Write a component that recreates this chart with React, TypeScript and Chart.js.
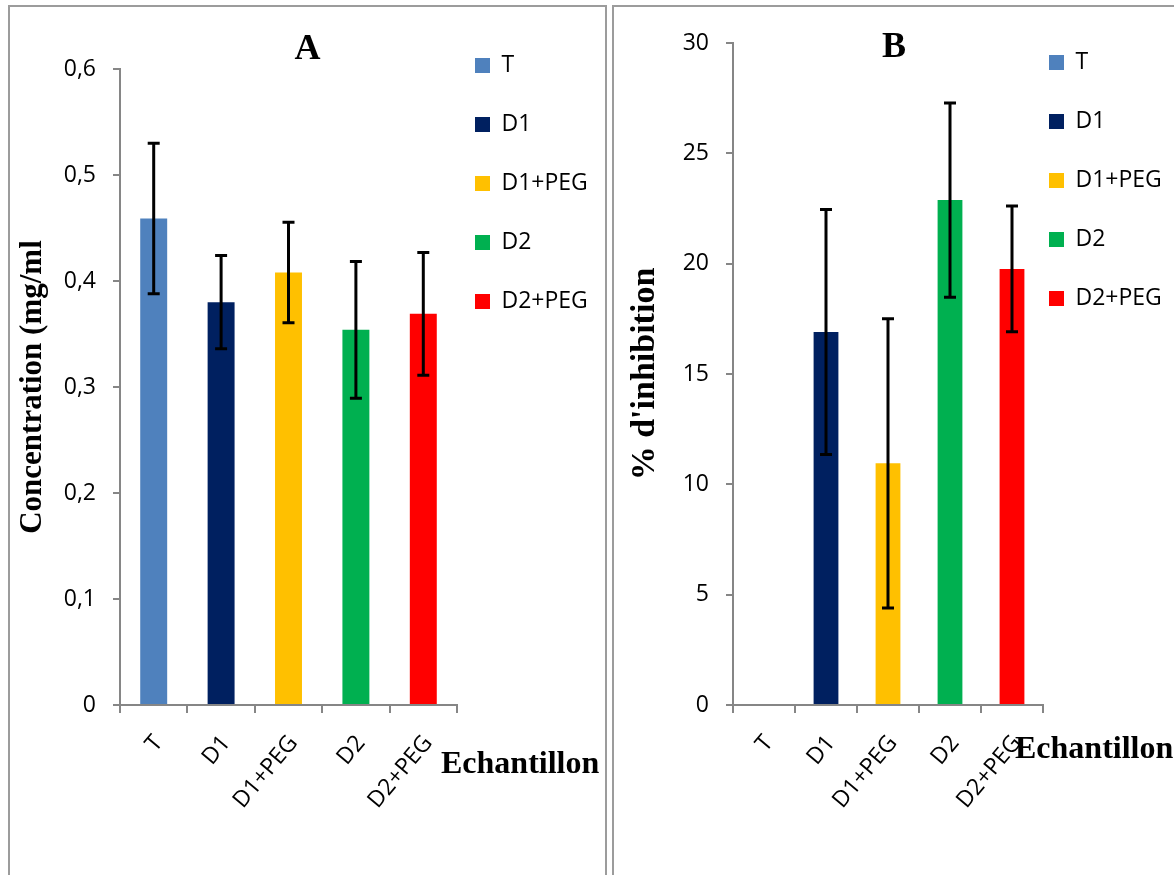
import { useEffect, useRef } from 'react';
import { Chart, registerables } from 'chart.js';

Chart.register(...registerables);

const categories = ['T', 'D1', 'D1+PEG', 'D2', 'D2+PEG'];
const barColors = ['#4F81BD', '#002060', '#FFC000', '#00B050', '#FF0000'];

const valuesA = [0.459, 0.38, 0.408, 0.354, 0.369];
const errorsA = [0.071, 0.044, 0.0475, 0.0645, 0.058];
const yTicksA = ['0', '0,1', '0,2', '0,3', '0,4', '0,5', '0,6'];

const valuesB = [0, 16.9, 10.95, 22.88, 19.76];
const errorsB = [0, 5.55, 6.55, 4.4, 2.85];
const yTicksB = ['0', '5', '10', '15', '20', '25', '30'];

const AXIS_GRAY = '#868686';
const SERIF = '"Liberation Serif", "Times New Roman", serif';
const SANS = '"Open Sans", "Liberation Sans", sans-serif';

type Spec = {
  width: number;
  height: number;
  values: number[];
  errors: number[];
  yMax: number;
  yStep: number;
  yTicks: string[];
  yTitle: string;
  yTitleSize: number;
  yTitlePad: number;
  yWidth: number;
  title: string;
  titlePad: { top: number; bottom: number };
  layoutTop: number;
  legendMaxWidth: number;
  legendOffset: number;
  xLabel: string;
  xLabelDx: number;
  xLabelDy: number;
  xHeight: number;
};

function errorBarPlugin(errors: number[]) {
  return {
    id: 'errorBars',
    afterDatasetsDraw(chart: any) {
      const meta = chart.getDatasetMeta(0);
      const ys = chart.scales.y;
      const vals = chart.data.datasets[0].data as number[];
      const ctx = chart.ctx;
      ctx.save();
      ctx.strokeStyle = '#000';
      ctx.lineWidth = 3;
      meta.data.forEach((bar: any, i: number) => {
        const e = errors[i];
        if (!e) return;
        const x = bar.x;
        const yt = ys.getPixelForValue(vals[i] + e);
        const yb = ys.getPixelForValue(vals[i] - e);
        ctx.beginPath();
        ctx.moveTo(x, yt);
        ctx.lineTo(x, yb);
        ctx.moveTo(x - 6, yt);
        ctx.lineTo(x + 6, yt);
        ctx.moveTo(x - 6, yb);
        ctx.lineTo(x + 6, yb);
        ctx.stroke();
      });
      ctx.restore();
    },
  };
}

function legendShiftPlugin(offset: number, padding: number) {
  return {
    id: 'legendShift',
    afterLayout(chart: any) {
      const lg = chart.legend;
      if (!lg) return;
      lg.left = chart.chartArea.right + offset - padding;
      lg.width = 220;
      lg.right = lg.left + lg.width;
    },
  };
}

function axisTextPlugin(text: string, dx: number, dy: number) {
  return {
    id: 'axisText',
    afterDraw(chart: any) {
      const ctx = chart.ctx;
      const a = chart.chartArea;
      ctx.save();
      ctx.font = `bold 32px ${SERIF}`;
      ctx.fillStyle = '#000';
      ctx.textAlign = 'left';
      ctx.textBaseline = 'middle';
      ctx.fillText(text, a.right + dx, a.bottom + dy);
      ctx.restore();
    },
  };
}

function makeChart(canvas: HTMLCanvasElement, s: Spec) {
  const legendPadding = 36;
  return new Chart(canvas, {
    type: 'bar',
    data: {
      labels: categories,
      datasets: [
        {
          label: 'values',
          data: s.values,
          backgroundColor: barColors,
          borderWidth: 0,
          categoryPercentage: 1,
          barPercentage: 0.4,
        },
      ],
    },
    options: {
      animation: false,
      responsive: false,
      maintainAspectRatio: false,
      layout: { padding: { top: s.layoutTop, left: 0, right: 0, bottom: 0 } },
      plugins: {
        tooltip: { enabled: false },
        title: {
          display: true,
          text: s.title,
          color: '#000',
          font: { family: SERIF, size: 36, weight: 'bold', lineHeight: 1 },
          padding: s.titlePad,
        },
        legend: {
          display: true,
          position: 'right',
          align: 'start',
          maxWidth: s.legendMaxWidth,
          labels: {
            boxWidth: 15,
            boxHeight: 15,
            padding: legendPadding,
            color: '#000',
            font: { family: SANS, size: 23 },
            generateLabels: () =>
              categories.map((c, i) => ({
                text: c,
                fillStyle: barColors[i],
                strokeStyle: barColors[i],
                lineWidth: 0,
                hidden: false,
                index: i,
                datasetIndex: 0,
              })),
          },
          onClick: () => {},
        },
      },
      scales: {
        x: {
          type: 'category',
          afterFit: (scale: any) => {
            scale.height = s.xHeight;
          },
          grid: {
            display: true,
            offset: true,
            drawOnChartArea: false,
            drawTicks: true,
            tickLength: 8,
            color: AXIS_GRAY,
            lineWidth: 2,
          },
          border: { display: true, color: AXIS_GRAY, width: 2 },
          ticks: {
            color: '#000',
            font: { family: SANS, size: 23 },
            minRotation: 50,
            maxRotation: 50,
            padding: 17,
            labelOffset: 5,
            autoSkip: false,
          },
        },
        y: {
          type: 'linear',
          min: 0,
          max: s.yMax,
          afterFit: (scale: any) => {
            scale.width = s.yWidth;
          },
          title: {
            display: true,
            text: s.yTitle,
            color: '#000',
            font: { family: SERIF, size: s.yTitleSize, weight: 'bold', lineHeight: 1.2 },
            padding: { top: s.yTitlePad, bottom: 0 },
          },
          grid: {
            display: true,
            drawOnChartArea: false,
            drawTicks: true,
            tickLength: 7,
            color: AXIS_GRAY,
            lineWidth: 2,
          },
          border: { display: true, color: AXIS_GRAY, width: 2 },
          ticks: {
            stepSize: s.yStep,
            color: '#000',
            padding: 17,
            font: { family: SANS, size: 23 },
            callback: (_v: any, i: number) => s.yTicks[i],
          },
        },
      },
    } as any,
    plugins: [
      errorBarPlugin(s.errors),
      legendShiftPlugin(s.legendOffset, legendPadding),
      axisTextPlugin(s.xLabel, s.xLabelDx, s.xLabelDy),
    ],
  });
}

const specA: Spec = {
  width: 595,
  height: 868,
  values: valuesA,
  errors: errorsA,
  yMax: 0.6,
  yStep: 0.1,
  yTicks: yTicksA,
  yTitle: 'Concentration (mg/ml',
  yTitleSize: 31,
  yTitlePad: 4,
  yWidth: 110,
  title: 'A',
  titlePad: { top: 14, bottom: 1 },
  layoutTop: 11,
  legendMaxWidth: 148,
  legendOffset: 18,
  xLabel: 'Echantillon',
  xLabelDx: -16,
  xLabelDy: 60,
  xHeight: 170,
};

const specB: Spec = {
  width: 560,
  height: 868,
  values: valuesB,
  errors: errorsB,
  yMax: 30,
  yStep: 5,
  yTicks: yTicksB,
  yTitle: "% d'inhibition",
  yTitleSize: 34,
  yTitlePad: 11,
  yWidth: 119,
  title: 'B',
  titlePad: { top: 15, bottom: -23 },
  layoutTop: 8,
  legendMaxWidth: 131,
  legendOffset: 6,
  xLabel: 'Echantillon',
  xLabelDx: -28,
  xLabelDy: 45,
  xHeight: 170,
};

function ChartCanvas({ spec }: { spec: Spec }) {
  const ref = useRef<HTMLCanvasElement | null>(null);
  useEffect(() => {
    if (!ref.current) return;
    const chart = makeChart(ref.current, spec);
    return () => chart.destroy();
  }, [spec]);
  return (
    <canvas
      ref={ref}
      width={spec.width}
      height={spec.height}
      style={{ display: 'block', width: spec.width, height: spec.height }}
    />
  );
}

export default function App() {
  const border = '2px solid #9c9c9c';
  return (
    <div style={{ position: 'absolute', left: 0, top: 0, width: 1174, height: 875, overflow: 'hidden', background: '#fff' }}>
      <div
        style={{
          position: 'absolute',
          left: 8,
          top: 5,
          width: 599,
          height: 870,
          boxSizing: 'border-box',
          borderLeft: border,
          borderTop: border,
          borderRight: border,
        }}
      >
        <ChartCanvas spec={specA} />
      </div>
      <div
        style={{
          position: 'absolute',
          left: 612,
          top: 5,
          width: 562,
          height: 870,
          boxSizing: 'border-box',
          borderLeft: border,
          borderTop: border,
        }}
      >
        <ChartCanvas spec={specB} />
      </div>
    </div>
  );
}
